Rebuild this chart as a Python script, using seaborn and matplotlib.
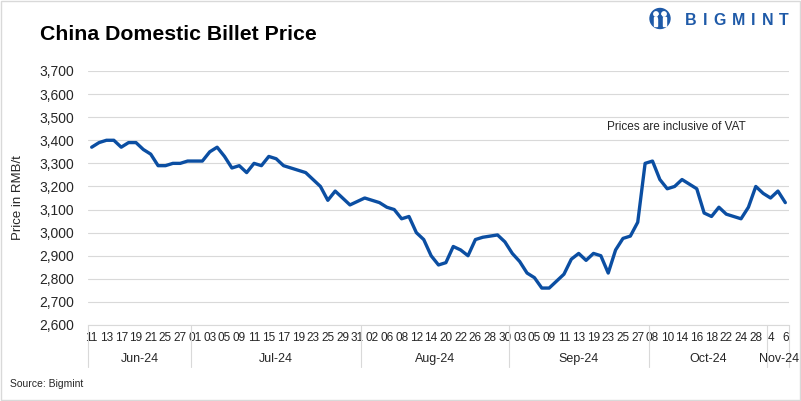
import numpy as np
import pandas as pd
import matplotlib
matplotlib.use("Agg")
import matplotlib.pyplot as plt
import matplotlib.patches as mpatches
import matplotlib.transforms as mtransforms
from matplotlib.ticker import FuncFormatter
import seaborn as sns

# ---------------- data ----------------
title = "China Domestic Billet Price"
y_label = "Price in RMB/t"
note = "Prices are inclusive of VAT"
source = "Source: Bigmint"
brand = "BIGMINT"

month_labels = ["Jun-24", "Jul-24", "Aug-24", "Sep-24", "Oct-24", "Nov-24"]
month_counts = [14, 23, 20, 19, 16, 3]

# label shown on every other data point
day_labels = ["11", "13", "17", "19", "21", "25", "27",
              "01", "03", "05", "09", "11", "15", "17", "19", "23", "25", "29", "31",
              "02", "06", "08", "12", "14", "20", "22", "26", "28", "30",
              "03", "05", "09", "11", "13", "19", "23", "25", "27",
              "08", "10", "14", "16", "18", "22", "24", "28",
              "4", "6"]

prices = [3370, 3390, 3400, 3400, 3370, 3390, 3390, 3360, 3340, 3290,
          3290, 3300, 3300, 3310, 3310, 3310, 3350, 3370, 3330, 3280,
          3290, 3260, 3300, 3290, 3330, 3320, 3290, 3280, 3270, 3260,
          3230, 3200, 3140, 3180, 3150, 3120, 3135, 3150, 3140, 3130,
          3110, 3100, 3060, 3070, 3000, 2970, 2900, 2860, 2870, 2940,
          2925, 2900, 2970, 2980, 2985, 2990, 2960, 2910, 2875, 2825,
          2805, 2760, 2760, 2790, 2820, 2885, 2910, 2880, 2910, 2900,
          2825, 2925, 2975, 2985, 3045, 3300, 3310, 3230, 3190, 3200,
          3230, 3210, 3190, 3085, 3070, 3110, 3080, 3070, 3060, 3110,
          3200, 3170, 3150, 3180, 3130]

y_ticks = list(range(2600, 3701, 100))

# ---------------- style ----------------
sns.set_theme(style="white")
plt.rcParams['font.family'] = ['Liberation Sans', 'DejaVu Sans']

W, H = 801, 401
fig = plt.figure(figsize=(W / 100, H / 100), dpi=100)
fig.patch.set_facecolor("white")

ax_left, ax_right, ax_top, ax_bottom = 88, 789, 71, 325
ax = fig.add_axes([ax_left / W, (H - ax_bottom) / H,
                   (ax_right - ax_left) / W, (ax_bottom - ax_top) / H])

df = pd.DataFrame({"pos": np.arange(len(prices)), "price": prices})
sns.lineplot(data=df, x="pos", y="price", ax=ax, color="#0B4EA2",
             linewidth=2.4, legend=False)

n = len(prices)
ax.set_xlim(-0.5, n - 0.5)
ax.set_ylim(y_ticks[0], y_ticks[-1])
ax.set_yticks(y_ticks)
ax.yaxis.set_major_formatter(FuncFormatter(lambda v, p: f"{int(v):,}"))
ax.set_xticks(np.arange(0, n, 2))
ax.set_xticklabels(day_labels)
ax.grid(axis="y", color="#d9d9d9", linewidth=0.8)
ax.grid(axis="x", visible=False)
ax.set_axisbelow(True)
for s in ["left", "right", "top"]:
    ax.spines[s].set_visible(False)
ax.spines["bottom"].set_color("#d9d9d9")
ax.spines["bottom"].set_linewidth(0.8)
ax.tick_params(axis="x", length=0, pad=5, labelsize=8.5, colors="#262626")
ax.tick_params(axis="y", length=0, pad=10, labelsize=10, colors="#262626")
ax.set_xlabel("")
ax.set_ylabel("")

# multi-level category axis: month groups
trans = mtransforms.blended_transform_factory(ax.transData, ax.transAxes)
sep_bottom = -(367 - ax_bottom) / (ax_bottom - ax_top)
month_y = -(359 - ax_bottom) / (ax_bottom - ax_top)
bounds = np.concatenate([[0], np.cumsum(month_counts)]) - 0.5
for b in bounds:
    ax.plot([b, b], [0, sep_bottom], transform=trans, clip_on=False,
            color="#d9d9d9", linewidth=0.8)
for i, lab in enumerate(month_labels):
    if i == len(month_labels) - 1:
        # narrow last group: label spills toward the right edge as in the original
        fig.text(799 / W, 1 - 359 / H, lab, ha="right", va="center",
                 fontsize=9, color="#262626")
    else:
        ax.text((bounds[i] + bounds[i + 1]) / 2, month_y, lab, transform=trans,
                ha="center", va="center", fontsize=9, color="#262626")

# ---------------- texts ----------------
fig.text(40 / W, 1 - 35 / H, title, fontsize=15.3, fontweight="bold",
         ha="left", va="center", color="#000000")
fig.text(18 / W, 1 - 198 / H, y_label, rotation=90, ha="center", va="center",
         fontsize=9.5, color="#262626")
fig.text(607 / W, 1 - 127 / H, note, ha="left", va="center", fontsize=8.5,
         color="#262626")
fig.text(10 / W, 1 - 384 / H, source, ha="left", va="center", fontsize=7.5,
         color="#262626")

# ---------------- overlay: border + logo ----------------
oax = fig.add_axes([0, 0, 1, 1], zorder=5)
oax.set_xlim(0, W)
oax.set_ylim(H, 0)
oax.axis("off")
oax.add_patch(mpatches.Rectangle((0.5, 0.5), W - 1.5, H - 1.5, fill=False,
                                 edgecolor="#d9d9d9", linewidth=1))
logo_blue = "#1F5AA8"
cx, cy, r = 660, 18.5, 10
oax.add_patch(mpatches.Circle((cx, cy), r, color=logo_blue))
oax.add_patch(mpatches.Circle((cx - 4, cy - 4.5), 2.2, color="white"))
oax.add_patch(mpatches.Circle((cx + 4, cy - 4.5), 2.2, color="white"))
oax.add_patch(mpatches.Rectangle((cx - 6, cy - 1.5), 3.2, 9, color="white"))
oax.add_patch(mpatches.Rectangle((cx + 2.8, cy - 1.5), 3.2, 9, color="white"))
oax.add_patch(mpatches.Circle((cx, cy - 1.5), 1.6, color=logo_blue))

letter_w = {"B": .722, "I": .278, "G": .778, "M": .833, "N": .722, "T": .611}
em = 16.0
x0, x1 = 685, 789
total = sum(letter_w[c] for c in brand) * em
gap = (x1 - x0 - total) / (len(brand) - 1)
xc = x0
for c in brand:
    oax.text(xc, 20.5, c, ha="left", va="center", fontsize=11.5,
             fontweight="heavy", color=logo_blue)
    xc += letter_w[c] * em + gap

fig.savefig("out.png", dpi=100)
